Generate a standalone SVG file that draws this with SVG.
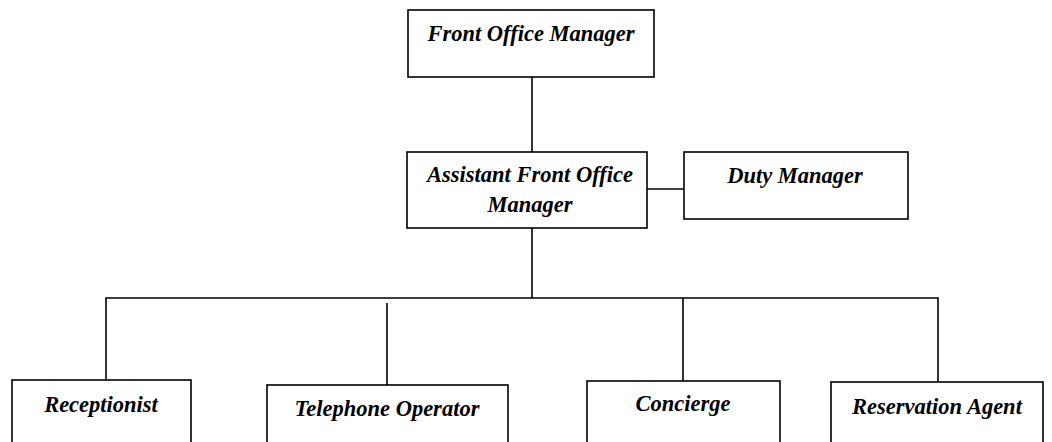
<svg xmlns="http://www.w3.org/2000/svg" width="1052" height="442" viewBox="0 0 1052 442">
<style>
.box{fill:#fff;stroke:#000;stroke-width:1.6}
.ln{stroke:#000;stroke-width:1.6;fill:none}
text{font-family:"Liberation Serif","Times New Roman",serif;font-weight:bold;font-style:italic;font-size:22.5px;fill:#000;text-anchor:middle}
</style>
<rect width="1052" height="442" fill="#fff"/>
<g id="connectors">
<line class="ln" x1="532" y1="77" x2="532" y2="152"/>
<line class="ln" x1="647" y1="189" x2="684" y2="189"/>
<line class="ln" x1="532" y1="228" x2="532" y2="298"/>
<polyline class="ln" points="106,379 106,298 938,298 938,382"/>
<line class="ln" x1="387" y1="303" x2="387" y2="385"/>
<line class="ln" x1="683" y1="298" x2="683" y2="381"/>
</g>
<g id="front-office-manager">
<rect class="box" x="408" y="10" width="246" height="67"/>
<text x="531" y="41">Front Office Manager</text>
</g>
<g id="assistant-front-office-manager">
<rect class="box" x="407" y="152" width="240" height="76"/>
<text x="530" y="182">Assistant Front Office</text>
<text x="530" y="212">Manager</text>
</g>
<g id="duty-manager">
<rect class="box" x="684" y="152" width="224" height="67"/>
<text x="795" y="183">Duty Manager</text>
</g>
<g id="receptionist">
<rect class="box" x="12" y="380" width="179" height="70"/>
<text x="101" y="412">Receptionist</text>
</g>
<g id="telephone-operator">
<rect class="box" x="267" y="385" width="241" height="65"/>
<text x="387" y="416">Telephone Operator</text>
</g>
<g id="concierge">
<rect class="box" x="587" y="381" width="193" height="69"/>
<text x="683" y="411">Concierge</text>
</g>
<g id="reservation-agent">
<rect class="box" x="831" y="382" width="212" height="68"/>
<text x="937" y="414">Reservation Agent</text>
</g>
</svg>
